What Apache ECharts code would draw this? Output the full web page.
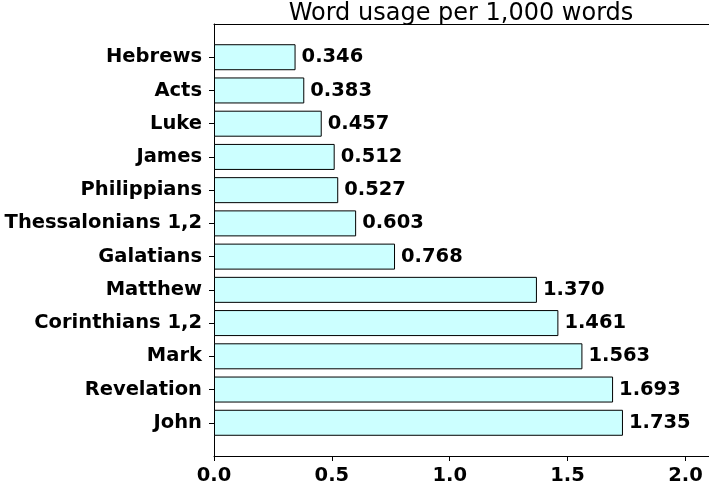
<!DOCTYPE html>
<html><head><meta charset="utf-8">
<script src="https://cdn.jsdelivr.net/npm/echarts@6/dist/echarts.min.js"></script>
<style>html,body{margin:0;padding:0;background:#fff}#c{width:709px;height:486px}</style>
</head><body><div id="c"></div>
<script>
const categories = ['Hebrews','Acts','Luke','James','Philippians','Thessalonians 1,2','Galatians','Matthew','Corinthians 1,2','Mark','Revelation','John'];
const values = [0.346,0.383,0.457,0.512,0.527,0.603,0.768,1.370,1.461,1.563,1.693,1.735];
const xTicks = [0, 0.5, 1.0, 1.5, 2.0];
const titleText = 'Word usage per 1,000 words';

const cats = [''].concat(categories, ['']);
const vals = [null].concat(values, [null]);
const F = 'DejaVu Sans, Verdana, sans-serif';
const chart = echarts.init(document.getElementById('c'), null, {renderer:'canvas'});
chart.setOption({
  animation:false,
  title:{text:titleText,left:461,textAlign:'center',top:2,padding:0,textStyle:{fontFamily:F,fontSize:24,fontWeight:'normal',color:'#000'}},
  grid:{left:214,top:24,bottom:30,right:-1,containLabel:false},
  xAxis:[{type:'value',min:0,max:2.1,interval:0.5,position:'bottom',
    axisLine:{show:true,lineStyle:{color:'#000',width:1}},
    axisTick:{show:true,length:5,lineStyle:{color:'#000'}},
    splitLine:{show:false},
    axisLabel:{showMaxLabel:false,fontFamily:F,fontSize:19.5,fontWeight:'bold',color:'#000',margin:10,
      formatter:v=>xTicks.indexOf(v)>=0?v.toFixed(1):''}},
    {type:'value',min:0,max:2.1,position:'top',axisLine:{show:true,lineStyle:{color:'#000'}},axisTick:{show:false},axisLabel:{show:false},splitLine:{show:false}}],
  yAxis:{type:'category',data:cats,inverse:true,boundaryGap:false,
    axisLine:{show:true,lineStyle:{color:'#000'}},
    axisTick:{show:true,length:5,interval:(i,v)=>v!=='',lineStyle:{color:'#000'}},
    axisLabel:{fontFamily:F,fontSize:19.5,fontWeight:'bold',color:'#000',margin:12,interval:0}},
  series:[{type:'bar',data:vals,barWidth:26,
    itemStyle:{color:'#CCFFFF',borderColor:'#000',borderWidth:1},
    label:{show:true,position:'right',distance:6,fontFamily:F,fontSize:19.5,fontWeight:'bold',color:'#000',
      formatter:p=>p.value.toFixed(3)}}]
});
</script></body></html>
